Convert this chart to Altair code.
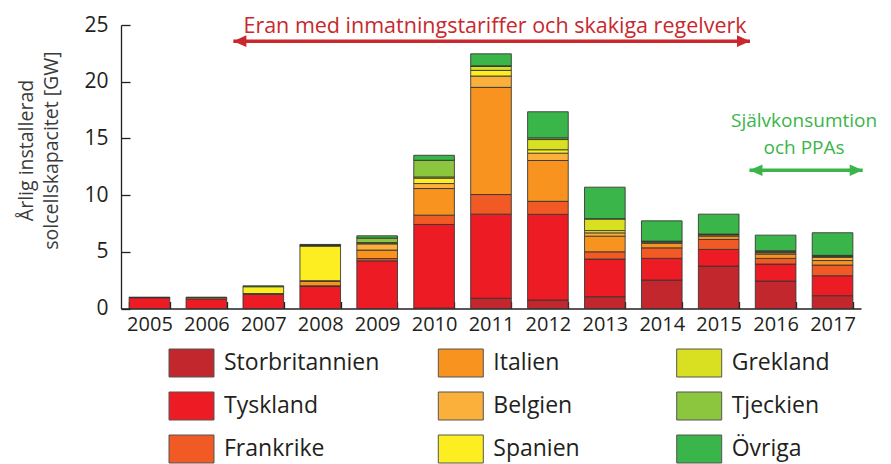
import altair as alt
import pandas as pd

# ---------------- data ----------------
years = ["2005", "2006", "2007", "2008", "2009", "2010", "2011",
         "2012", "2013", "2014", "2015", "2016", "2017"]

countries = ["Storbritannien", "Tyskland", "Frankrike", "Italien", "Belgien",
             "Spanien", "Grekland", "Tjeckien", "Övriga"]
colors = ["#C1272D", "#ED1C24", "#F15A24", "#F7931E", "#FBB03B",
          "#FCEE21", "#D9E021", "#8CC63F", "#39B54A"]

storbritannien = [0, 0, 0, 0, 0, 0.03, 0.90, 0.75, 1.04, 2.51, 3.74, 2.42, 1.13]
tyskland       = [0.95, 0.85, 1.25, 1.95, 4.20, 7.38, 7.42, 7.55, 3.32, 1.91, 1.47, 1.50, 1.76]
frankrike      = [0, 0, 0, 0.05, 0.20, 0.82, 1.73, 1.15, 0.64, 0.93, 0.88, 0.50, 0.94]
italien        = [0, 0, 0.07, 0.40, 0.75, 2.35, 9.45, 3.60, 1.38, 0.40, 0.30, 0.37, 0.40]
belgien        = [0, 0, 0, 0.05, 0.55, 0.44, 1.00, 0.65, 0.29, 0.10, 0.10, 0.12, 0.28]
spanien        = [0.02, 0.10, 0.60, 3.05, 0.06, 0.47, 0.50, 0.30, 0.20, 0.04, 0.04, 0.05, 0.08]
grekland       = [0, 0, 0, 0.05, 0.05, 0.11, 0.35, 0.90, 1.03, 0.03, 0, 0.05, 0.05]
tjeckien       = [0, 0, 0, 0.05, 0.40, 1.47, 0.05, 0.15, 0.02, 0.02, 0.03, 0.08, 0.05]
ovriga         = [0.03, 0.05, 0.08, 0.05, 0.20, 0.44, 1.06, 2.30, 2.78, 1.79, 1.76, 1.38, 1.99]

series = [storbritannien, tyskland, frankrike, italien, belgien,
          spanien, grekland, tjeckien, ovriga]

y_title = ["Årlig installerad", "solcellskapacitet [GW]"]
y_ticks = [0, 5, 10, 15, 20, 25]

era_text = "Eran med inmatningstariffer och skakiga regelverk"
self_text = ["Självkonsumtion", "och PPAs"]

# ---------------- tables ----------------
rows = []
for ci, (name, vals) in enumerate(zip(countries, series)):
    for yr, v in zip(years, vals):
        if v > 0:
            rows.append({"year": yr, "country": name, "value": v, "idx": ci})
df = pd.DataFrame(rows)

FONT = "Open Sans"
INK = "#231F20"
RED = "#C8282E"
GREEN = "#3BB54A"

W, H = 740, 283.5
NB = 13  # number of bands, used as the annotation x unit

x_enc = alt.X("year:N", sort=years,
              scale=alt.Scale(paddingInner=0.286, paddingOuter=0.143),
              axis=alt.Axis(title=None, labelAngle=0, labelFont=FONT, labelFontSize=20,
                            labelColor=INK, domainColor=INK, domainWidth=1.3,
                            tickColor=INK, tickWidth=1.3, tickBand="extent",
                            tickSize=alt.ExprRef(expr="-7"), labelPadding=13))
y_scale = alt.Scale(domain=[0, 25], nice=False)

bars = alt.Chart(df).mark_bar(stroke="#333333", strokeWidth=1, strokeOpacity=0.85).encode(
    x=x_enc,
    y=alt.Y("value:Q", stack="zero", scale=y_scale,
            axis=alt.Axis(values=y_ticks, grid=False, title=y_title,
                          labelFont=FONT, labelFontSize=21, labelColor=INK,
                          domainColor=INK, domainWidth=1.3, tickColor=INK, tickWidth=1.3,
                          tickSize=alt.ExprRef(expr="-9"), labelPadding=22,
                          titleFont=FONT, titleFontSize=19.5, titleFontWeight="normal",
                          titleColor="#3a3a3a", titleAngle=-90, titleBaseline="top",
                          titleAlign="center", titleX=-104, titleY=125, titleLineHeight=25)),
    color=alt.Color("country:N", scale=alt.Scale(domain=countries, range=colors),
                    legend=None),
    order=alt.Order("idx:Q"),
)

# ---------------- legend: three columns, each its own legend ----------------
legend_x = [56, 325.3, 563.7]
legend_layers = []
for k in range(3):
    names = countries[3 * k: 3 * k + 3]
    cols = colors[3 * k: 3 * k + 3]
    ddf = pd.DataFrame({"year": [years[0]] * 3, "country": names, "zero": [0.0] * 3})
    legend_layers.append(
        alt.Chart(ddf).mark_bar(strokeWidth=0).encode(
            x=alt.X("year:N", sort=years),
            y=alt.Y("zero:Q", stack=None, scale=y_scale),
            color=alt.Color("country:N", scale=alt.Scale(domain=names, range=cols),
                            legend=alt.Legend(
                                title=None, orient="none", legendX=legend_x[k],
                                legendY=323.5, direction="vertical",
                                symbolType="M-1.607,-1L1.607,-1L1.607,1L-1.607,1Z",
                                symbolSize=784, symbolStrokeColor="#555555",
                                symbolStrokeWidth=1, symbolOpacity=1,
                                labelFont=FONT, labelFontSize=23, labelColor=INK,
                                labelOffset=18, rowPadding=10, labelLimit=400)),
        )
    )

main = alt.layer(bars, *legend_layers).resolve_scale(color="independent")

# ---------------- annotations ----------------
arrows = pd.DataFrame({
    "x1": [1.974, 11.04],
    "x2": [11.05, 13.03],
    "y": [23.57, 12.19],
    "kind": ["era", "self"],
})
era_df = pd.DataFrame({"x": [6.57], "y": [24.28], "label": [era_text], "kind": ["era"]})
self_df = pd.DataFrame({"x": [12.0, 12.0], "y": [16.0, 13.66],
                        "label": self_text, "kind": ["self", "self"]})

ann_scale = alt.Scale(domain=[0, NB], nice=False, zero=False)
kind_scale = alt.Scale(domain=["era", "self"], range=[RED, GREEN])
ann_color = alt.Color("kind:N", scale=kind_scale, legend=None)
ann_fill = alt.Fill("kind:N", scale=kind_scale, legend=None)

arrow_lines = alt.Chart(arrows).mark_rule(strokeWidth=3.6).encode(
    x=alt.X("x1:Q", scale=ann_scale, axis=None),
    x2="x2:Q",
    y=alt.Y("y:Q"),
    color=ann_color,
)
left_heads = alt.Chart(arrows).mark_point(
    shape="M0,0L2,-0.9L2,0.9Z", filled=True, size=169, opacity=1, strokeWidth=0
).encode(
    x=alt.X("x1:Q", scale=ann_scale, axis=None),
    y="y:Q",
    fill=ann_fill,
)
right_heads = alt.Chart(arrows).mark_point(
    shape="M0,0L-2,-0.9L-2,0.9Z", filled=True, size=169, opacity=1, strokeWidth=0
).encode(
    x=alt.X("x2:Q", scale=ann_scale, axis=None),
    y="y:Q",
    fill=ann_fill,
)
era_label = alt.Chart(era_df).mark_text(
    font=FONT, fontSize=21.5, align="center", baseline="alphabetic"
).encode(
    x=alt.X("x:Q", scale=ann_scale, axis=None),
    y="y:Q",
    text="label:N",
    color=ann_color,
)
self_label = alt.Chart(self_df).mark_text(
    font=FONT, fontSize=19, align="center", baseline="alphabetic"
).encode(
    x=alt.X("x:Q", scale=ann_scale, axis=None),
    y="y:Q",
    text="label:N",
    color=ann_color,
)

annotations = alt.layer(arrow_lines, left_heads, right_heads, era_label, self_label)

chart = alt.layer(main, annotations).resolve_scale(
    x="independent", color="independent", fill="independent"
).properties(
    width=W, height=H,
    autosize=alt.AutoSizeParams(type="none"),
    padding={"left": 113, "top": 17, "right": 22, "bottom": 156},
).configure_view(stroke=None)

chart.save("out.html", embed_options={"renderer": "svg", "actions": False})
